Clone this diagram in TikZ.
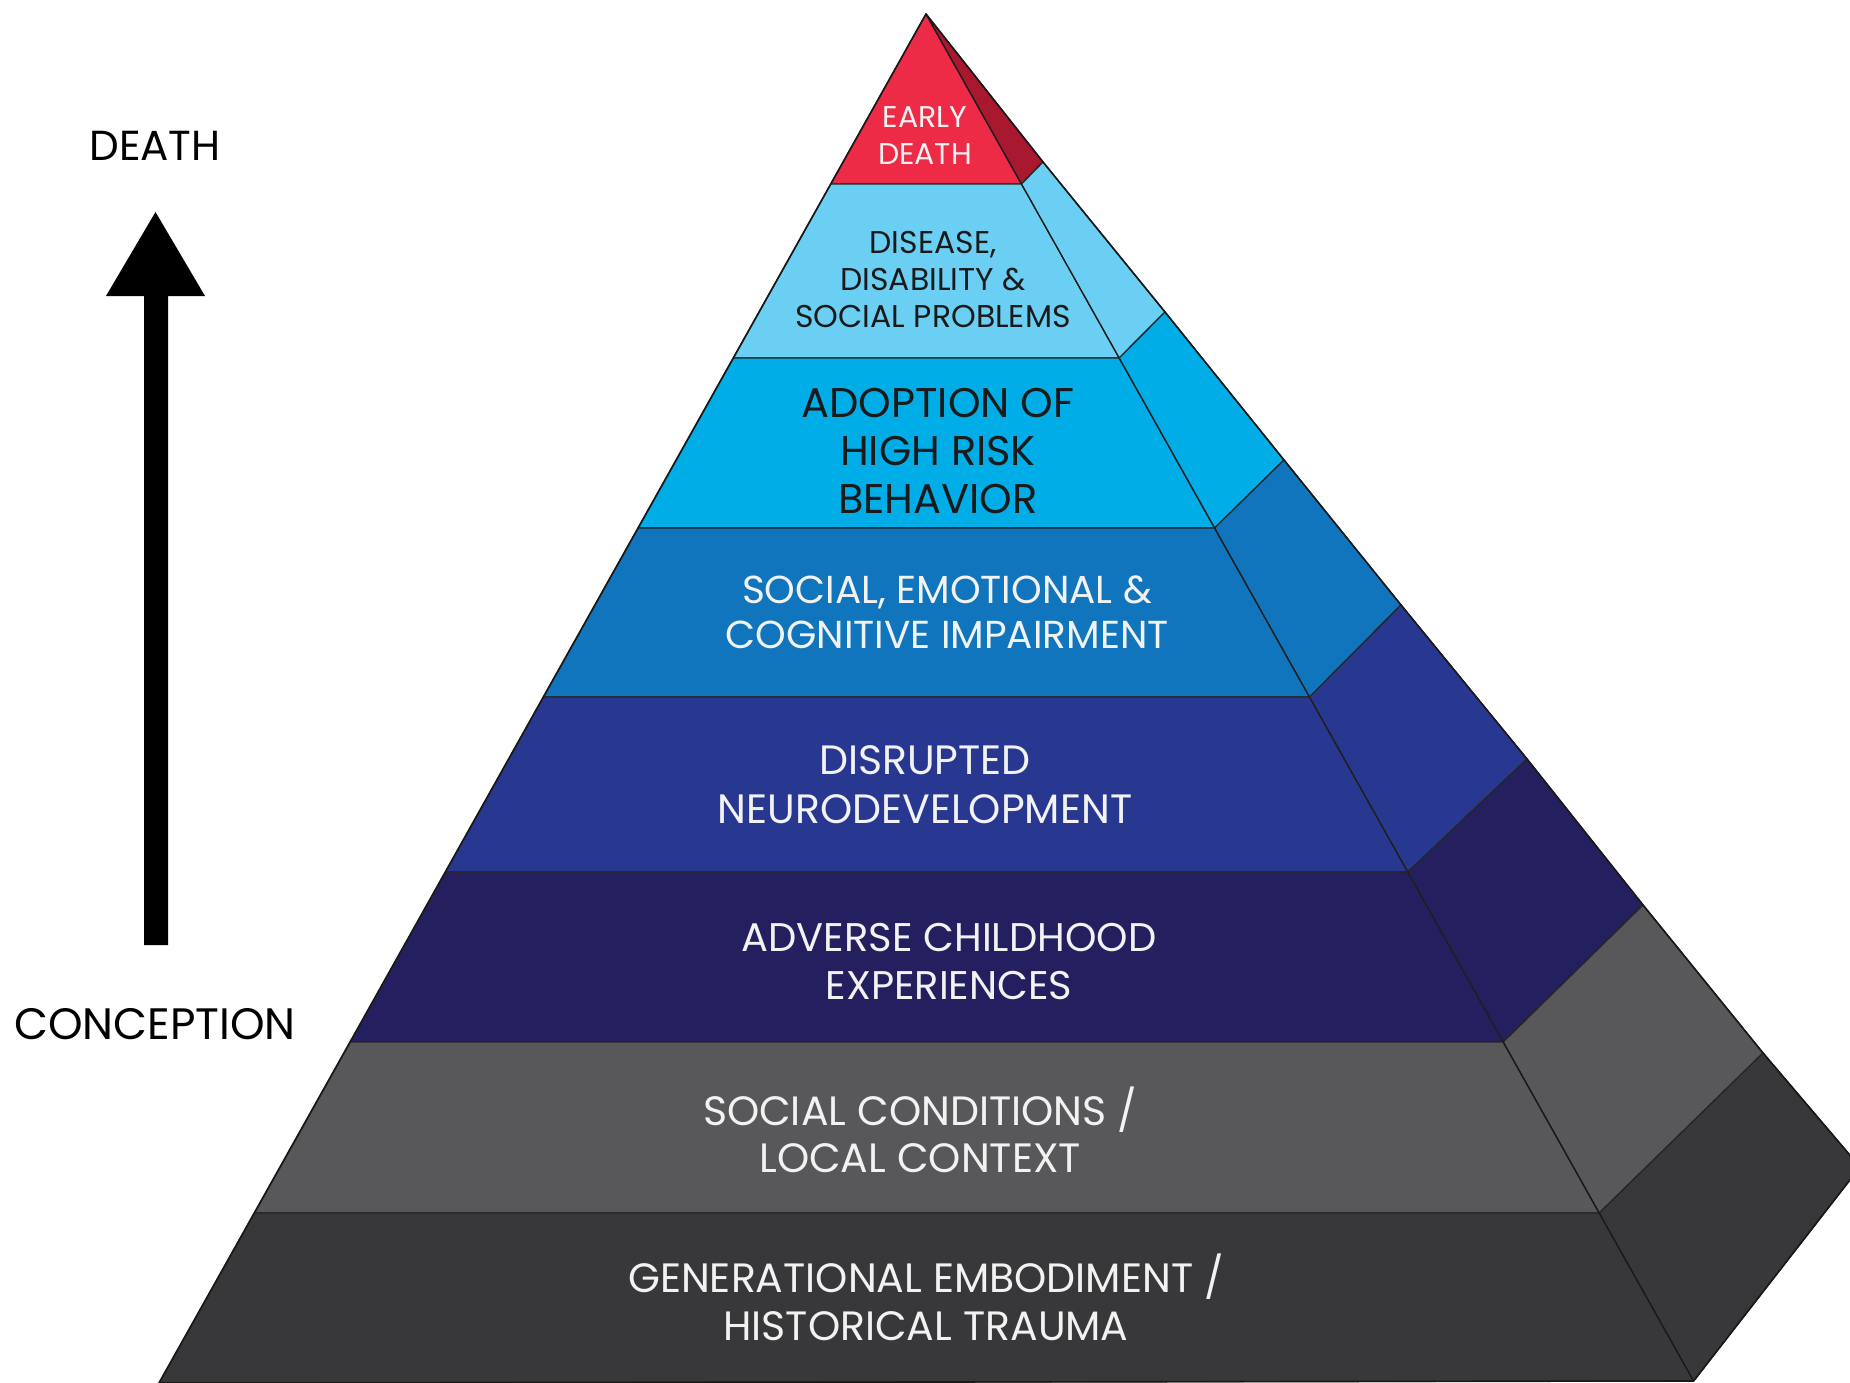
\documentclass[tikz,border=0pt]{standalone}
\usepackage{fontspec}
\setmainfont{Poppins}
\usetikzlibrary{calc}

\definecolor{redfront}{HTML}{EE2B47}
\definecolor{redside}{HTML}{A8192F}
\definecolor{sky}{HTML}{6BCFF4}
\definecolor{cyanb}{HTML}{00ADE6}
\definecolor{midblue}{HTML}{1075BC}
\definecolor{royal}{HTML}{283891}
\definecolor{navy}{HTML}{241F5E}
\definecolor{slate}{HTML}{58585A}
\definecolor{charcoal}{HTML}{38383A}
\definecolor{inkdark}{HTML}{1A1A1A}
\definecolor{paper}{HTML}{F2F2F2}

\newcommand\setfs[2]{\fontsize{#1}{#2}\selectfont}

\tikzset{
  face/.style={fill=#1, draw=black!85, line width=1.3, line join=round},
  ridge/.style={draw=black!90, line width=1.2, densely dotted},
  ridgesolid/.style={draw=black!90, line width=1.2},
  edge/.style={draw=black!90, line width=1.6, line join=round},
  lbl/.style={align=center, inner sep=0pt, text=#1},
  sidelabel/.style={inner sep=0pt, text=black},
}

\begin{document}
\begin{tikzpicture}[x=1pt, y=-1pt]
\useasboundingbox (0,0) rectangle (1850,1383);
\clip (0,0) rectangle (1850,1383);

% apex, left edge, front ridge and outer edge points
\coordinate (A)  at (926,14);
\coordinate (L1) at (830.8,184);  \coordinate (R1) at (1021.5,184);  \coordinate (O1) at (1043,162);
\coordinate (L2) at (733.4,358);  \coordinate (R2) at (1119.2,358);  \coordinate (O2) at (1165,312);
\coordinate (L3) at (638.2,528);  \coordinate (R3) at (1214.6,528);  \coordinate (O3) at (1284,460);
\coordinate (L4) at (543.5,697);  \coordinate (R4) at (1309.5,697);  \coordinate (O4) at (1401,605);
\coordinate (L5) at (445.5,872);  \coordinate (R5) at (1407.8,872);  \coordinate (O5) at (1527,759);
\coordinate (L6) at (350.3,1042); \coordinate (R6) at (1503.2,1042); \coordinate (O6) at (1643,905);
\coordinate (L7) at (254.6,1213); \coordinate (R7) at (1599.2,1213); \coordinate (O7) at (1763,1053);
\coordinate (L8) at (159,1383);   \coordinate (R8) at (1693.6,1381); \coordinate (O8) at (1860,1167);

% front faces
\draw[face=redfront]  (A) -- (R1) -- (L1) -- cycle;
\draw[face=sky]       (L1) -- (R1) -- (R2) -- (L2) -- cycle;
\draw[face=cyanb]     (L2) -- (R2) -- (R3) -- (L3) -- cycle;
\draw[face=midblue]   (L3) -- (R3) -- (R4) -- (L4) -- cycle;
\draw[face=royal]     (L4) -- (R4) -- (R5) -- (L5) -- cycle;
\draw[face=navy]      (L5) -- (R5) -- (R6) -- (L6) -- cycle;
\draw[face=slate]     (L6) -- (R6) -- (R7) -- (L7) -- cycle;
\draw[face=charcoal]  (L7) -- (R7) -- (R8) -- (L8) -- cycle;

% side faces
\draw[face=redside]   (A) -- (O1) -- (R1) -- cycle;
\draw[face=sky]       (R1) -- (O1) -- (O2) -- (R2) -- cycle;
\draw[face=cyanb]     (R2) -- (O2) -- (O3) -- (R3) -- cycle;
\draw[face=midblue]   (R3) -- (O3) -- (O4) -- (R4) -- cycle;
\draw[face=royal]     (R4) -- (O4) -- (O5) -- (R5) -- cycle;
\draw[face=navy]      (R5) -- (O5) -- (O6) -- (R6) -- cycle;
\draw[face=slate]     (R6) -- (O6) -- (O7) -- (R7) -- cycle;
\draw[face=charcoal]  (R7) -- (O7) -- (O8) -- (R8) -- cycle;

% ridge between the two faces
\draw[ridge] (A) -- (R6);
\draw[ridgesolid] (R6) -- (R8);
% outline
\draw[edge] (L8) -- (A) -- (O1) -- (O2) -- (O3) -- (O4) -- (O5) -- (O6)
  -- (O7) -- (O8) -- (R8) -- cycle;

% layer labels
\node[lbl=paper, font=\setfs{30}{37}] (early) at (925,136)
  {EARLY\\DEATH};
\node[lbl=inkdark, font=\setfs{31.5}{37}] (disease) at (933,279)
  {DISEASE,\\DISABILITY \&\\SOCIAL PROBLEMS};
\node[lbl=inkdark, font=\setfs{41.5}{48}] (adoption) at (938,451)
  {ADOPTION OF\\HIGH RISK\\BEHAVIOR};
\node[lbl=paper, font=\setfs{39}{45}] (impair) at (947,612)
  {SOCIAL, EMOTIONAL \&\\COGNITIVE IMPAIRMENT};
\node[lbl=paper, font=\setfs{41}{49}] (neuro) at (925,785)
  {DISRUPTED\\NEURODEVELOPMENT};
\node[lbl=paper, font=\setfs{40}{48}] (aces) at (949,962)
  {ADVERSE CHILDHOOD\\EXPERIENCES};
\node[lbl=paper, font=\setfs{41}{47}] (conditions) at (920,1129.5)
  {SOCIAL CONDITIONS /\\LOCAL CONTEXT};
\node[lbl=paper, font=\setfs{41}{48}] (embodiment) at (926,1297.5)
  {GENERATIONAL EMBODIMENT /\\HISTORICAL TRAUMA};

% life-course axis
\node[sidelabel, font=\setfs{42}{50}] (death) at (155,146) {DEATH};
\node[sidelabel, font=\setfs{44}{50}] (conception) at (155,1024) {CONCEPTION};
\fill[black] (144,945) -- (144,296) -- (106,296) -- (155.5,212)
  -- (205,296) -- (168,296) -- (168,945) -- cycle;
\end{tikzpicture}
\end{document}
